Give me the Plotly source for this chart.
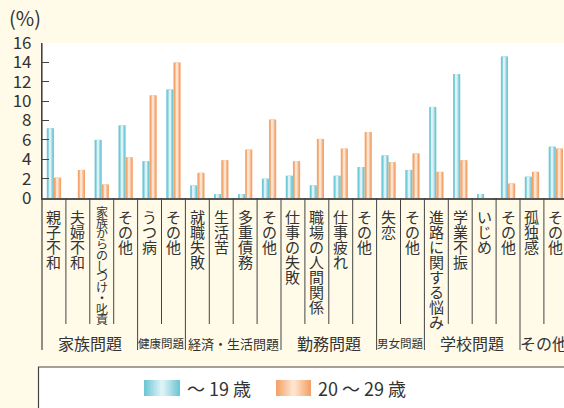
import plotly.graph_objects as go

categories = ["親子不和", "夫婦不和", "家族からのしつけ・叱責", "その他", "うつ病", "その他",
              "就職失敗", "生活苦", "多重債務", "その他", "仕事の失敗", "職場の人間関係",
              "仕事疲れ", "その他", "失恋", "その他", "進路に関する悩み", "学業不振",
              "いじめ", "その他", "孤独感", "その他"]
under19 = [7.2, 0, 6.0, 7.5, 3.8, 11.2, 1.3, 0.4, 0.4, 2.0, 2.3, 1.3, 2.3, 3.2,
           4.4, 2.9, 9.4, 12.8, 0.4, 14.6, 2.2, 5.3]
age20s = [2.1, 2.9, 1.4, 4.2, 10.6, 14.0, 2.6, 3.9, 5.0, 8.1, 3.8, 6.1, 5.1, 6.8,
          3.7, 4.6, 2.7, 3.9, 0, 1.5, 2.7, 5.1]
groups = ["家族問題", "健康問題", "経済・生活問題", "勤務問題", "男女問題", "学校問題", "その他"]
group_sizes = [4, 2, 4, 4, 2, 4, 2]
group_font = [16, 11.5, 13, 16, 11.5, 16, 16]
series_names = ["～ 19 歳", "20 ～ 29 歳"]
yticks = [0, 2, 4, 6, 8, 10, 12, 14, 16]

FONT = "Noto Sans CJK JP"
TXT = "#333333"
BG = "#fffbe8"
BLUE = ["#6fc8d5", "#a4dce5", "#dcf2f6"]
ORANGE = ["#f4a36a", "#f8c39c", "#fde4d0"]

W, H = 564, 408
L, T, B = 42, 43, 210
PH = H - T - B            # plot height px
PW = W - L                # plot width px
PX_PER_CAT = 23.9
xr = [-0.5, -0.5 + PW / PX_PER_CAT]

def py(ypix):            # pixel y -> paper y
    return (H - B - ypix) / PH

def px(xpix):            # pixel x -> paper x
    return (xpix - L) / PW

def mix(c1, c2, t):
    a = [int(c1[i:i + 2], 16) for i in (1, 3, 5)]
    b = [int(c2[i:i + 2], 16) for i in (1, 3, 5)]
    return "#" + "".join(f"{round(a[k] + (b[k] - a[k]) * t):02x}" for k in range(3))

xs = list(range(len(categories)))
fig = go.Figure()

bw = 0.30
for vals, cols, c in [(under19, BLUE, -0.15), (age20s, ORANGE, 0.15)]:
    for w, col in zip([bw, 0.17, 0.07], cols):
        fig.add_trace(go.Bar(x=xs, y=vals, width=w, offset=c - w / 2,
                             marker=dict(color=col, line=dict(width=0)),
                             showlegend=False, hoverinfo="skip"))

shapes = []
annotations = []

# left axis extension and separators
shapes.append(dict(type="line", xref="paper", yref="paper", x0=0, x1=0,
                   y0=py(350), y1=1, line=dict(color="#444", width=1.2)))
bounds = []
acc = 0
for s in group_sizes:
    acc += s
    bounds.append(acc)
for k in range(1, len(categories)):
    is_group = k in bounds
    y_end = py(350) if is_group else py(324)
    shapes.append(dict(type="line", xref="x", yref="paper", x0=k - 0.5, x1=k - 0.5,
                       y0=y_end, y1=0, line=dict(color="#444", width=1)))

# category labels (vertical, one char per annotation)
for i, lab in enumerate(categories):
    chars = list(lab)
    if len(chars) > 8:
        fs, step, top = 12, 10.75, 206
    else:
        fs, step, top = 15, 15.0, 209.3
    for j, ch in enumerate(chars):
        yc = top + step * j + step / 2
        annotations.append(dict(x=i, y=py(yc), xref="x", yref="paper", text=ch,
                                showarrow=False, xanchor="center", yanchor="middle",
                                font=dict(family=FONT, size=fs, color=TXT)))

# group labels
start = 0
for g, s, fs in zip(groups, group_sizes, group_font):
    center = start + (s - 1) / 2
    annotations.append(dict(x=center, y=py(343), xref="x", yref="paper", text=g,
                            showarrow=False, xanchor="center", yanchor="middle",
                            font=dict(family=FONT, size=fs, color=TXT)))
    start += s

# (%) label
annotations.append(dict(x=px(25), y=py(17.5), xref="paper", yref="paper", text="(%)",
                        showarrow=False, xanchor="center", yanchor="middle",
                        font=dict(family=FONT, size=20, color=TXT)))

# legend box
shapes.append(dict(type="rect", xref="paper", yref="paper", x0=px(38.5), x1=px(570),
                   y0=py(420), y1=py(367), fillcolor="white",
                   line=dict(color="#444", width=1.2)))
for (x0, x1), cols, name in [((144, 180), BLUE, series_names[0]),
                             ((276, 311), ORANGE, series_names[1])]:
    wsw = x1 - x0
    cx = (x0 + x1) / 2
    n = 8
    for k in range(n):
        frac = 1.0 - k / n
        t = k / (n - 1)
        col = mix(cols[0], cols[2], t)
        hw = wsw * frac / 2
        shapes.append(dict(type="rect", xref="paper", yref="paper",
                           x0=px(cx - hw), x1=px(cx + hw), y0=py(396), y1=py(380),
                           fillcolor=col, line=dict(width=0)))
    annotations.append(dict(x=px(x1 + 5), y=py(388), xref="paper", yref="paper",
                            text=name, showarrow=False, xanchor="left", yanchor="middle",
                            font=dict(family=FONT, size=18, color=TXT)))

fig.update_layout(
    width=W, height=H,
    margin=dict(l=L, r=0, t=T, b=B, pad=0),
    paper_bgcolor=BG, plot_bgcolor="white",
    barmode="overlay",
    showlegend=False,
    shapes=shapes,
    annotations=annotations,
    xaxis=dict(range=xr, showticklabels=False, showgrid=False, zeroline=False,
               showline=True, linecolor="#555", linewidth=1.5, ticks=""),
    yaxis=dict(range=[0, 16], tickvals=yticks, showgrid=False, zeroline=False,
               showline=True, linecolor="#444", linewidth=1.2,
               ticks="inside", ticklen=7, tickcolor="#444", tickwidth=1,
               ticklabelstandoff=6,
               tickfont=dict(family=FONT, size=17, color=TXT)),
)

fig.write_html("out.html")
